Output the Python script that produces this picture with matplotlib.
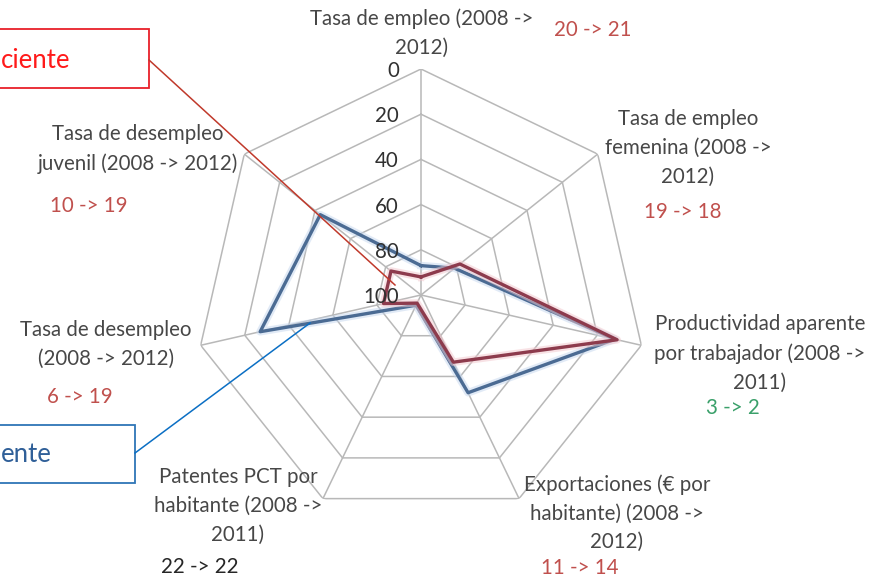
import numpy as np
from matplotlib import pyplot as plt
from matplotlib.patches import Rectangle

# ejes del radar (sentido horario desde arriba)
ejes = ['Tasa de empleo (2008 ->\n2012)',
        'Tasa de empleo\nfemenina (2008 ->\n2012)',
        'Productividad aparente\npor trabajador (2008 ->\n2011)',
        'Exportaciones (€ por\nhabitante) (2008 ->\n2012)',
        'Patentes PCT por\nhabitante (2008 ->\n2011)',
        'Tasa de desempleo\n(2008 -> 2012)',
        'Tasa de desempleo\njuvenil (2008 -> 2012)']
cambios = ['20 -> 21', '19 -> 18', '3 -> 2', '11 -> 14', '22 -> 22', '6 -> 19', '10 -> 19']
color_cambio = ['#c0504d', '#c0504d', '#3aa06a', '#c0504d', '#262626', '#c0504d', '#c0504d']

serie_azul = [87, 81, 12, 52, 95, 27, 43]
serie_roja = [92, 78, 11, 67, 96, 83, 83]
niveles = [0, 20, 40, 60, 80, 100]

W, H = 870, 579
plt.rcParams['font.family'] = ['Lato', 'DejaVu Sans']

def px(x, y):
    # pixeles desde arriba a la izquierda -> fraccion de figura
    return x / W, 1 - y / H

fig = plt.figure(figsize=(W / 100, H / 100), dpi=100)
ax = fig.add_axes([195 / W, 58 / H, 452 / W, 452 / H], projection='polar')
ax.set_theta_offset(np.pi / 2)
ax.set_theta_direction(-1)
ax.set_ylim(100, 0)
ax.grid(False)
ax.set_xticks([])
ax.set_yticks([])
ax.spines['polar'].set_visible(False)
ax.patch.set_visible(False)

n = len(ejes)
theta = np.arange(n) * 2 * np.pi / n
tc = np.append(theta, theta[0])

gris = '#b8b8b8'
for nv in niveles[:-1]:
    ax.plot(tc, [nv] * (n + 1), color=gris, lw=1.1, zorder=1)
for t in theta:
    ax.plot([t, t], [0, 100], color=gris, lw=1.1, zorder=1)

for nv in niveles:
    ax.annotate(str(nv), xy=(0, nv), xytext=(-16, -1.5), textcoords='offset points',
                ha='right', va='center', fontsize=14.8, color='#303030', zorder=5)

az = np.append(serie_azul, serie_azul[0])
ro = np.append(serie_roja, serie_roja[0])
ax.plot(tc, az, color='#c4d6ee', lw=5.5, alpha=0.5, zorder=2)
ax.plot(tc, az, color='#4b6b93', lw=2.4, zorder=3)
ax.plot(tc, ro, color='#f2c6cc', lw=5.5, alpha=0.5, zorder=3)
ax.plot(tc, ro, color='#8d3b4d', lw=2.4, zorder=4)

# etiquetas de los ejes: (x centro, y borde superior)
pos_eje = [(422, 8), (688, 109), (760, 314), (617, 474), (238, 467), (106, 320), (138, 124)]
pos_cambio = [(593, 30), (683, 212), (733, 408), (580, 568), (200, 567), (80, 397), (89, 206)]
for i in range(n):
    x, y = px(*pos_eje[i])
    fig.text(x, y, ejes[i], ha='center', va='top', fontsize=14.8, color='#474747',
             linespacing=1.55)
    x, y = px(*pos_cambio[i])
    fig.text(x, y, cambios[i], ha='center', va='center', fontsize=14.8, color=color_cambio[i])

# cuadros de texto recortados en el borde izquierdo
rx, ry = px(-120, 88)
fig.add_artist(Rectangle((rx, ry), 269 / W, 59 / H, transform=fig.transFigure,
                         fill=False, edgecolor='#e8202a', lw=1.3))
x, y = px(1, 60)
fig.text(x, y, 'ciente', ha='left', va='center', fontsize=18.5, color='#ff1a1a')
fig.add_artist(plt.Line2D([149 / W, 395 / W], [1 - 60 / H, 1 - 285 / H],
                          transform=fig.transFigure, color='#c0392b', lw=1.1))

bx, by = px(-120, 483)
fig.add_artist(Rectangle((bx, by), 255 / W, 58 / H, transform=fig.transFigure,
                         fill=False, edgecolor='#2e75b6', lw=1.3))
x, y = px(1, 455)
fig.text(x, y, 'ente', ha='left', va='center', fontsize=18.5, color='#2f5f98')
fig.add_artist(plt.Line2D([135 / W, 310 / W], [1 - 453 / H, 1 - 323 / H],
                          transform=fig.transFigure, color='#0b6fc4', lw=1.1))

fig.savefig('out.png', dpi=100)
